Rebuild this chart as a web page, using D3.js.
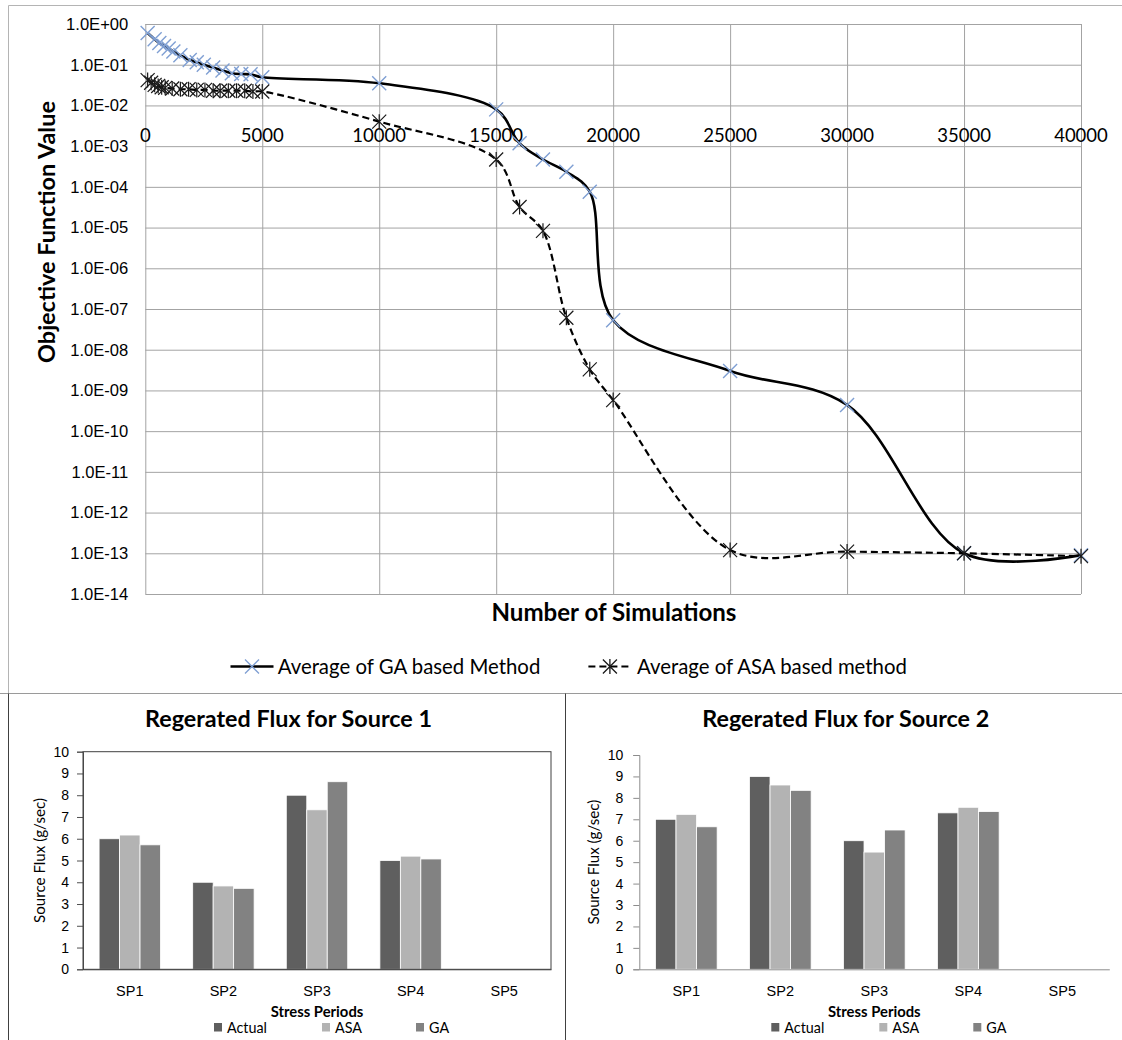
<!DOCTYPE html>
<html>
<head>
<meta charset="utf-8">
<script src="https://cdn.jsdelivr.net/npm/d3@7"></script>
<style>
  body { margin: 0; background: #fff; }
  svg { display: block; font-family: Lato, "Open Sans", sans-serif; }
</style>
</head>
<body>
<svg id="chart" width="1122" height="1040"></svg>
<script>
// ---- data ----
const gaX = [100, 400, 600, 800, 1000, 1200, 1500, 1900, 2200, 2500, 2900, 3300, 3700, 4100, 4500, 5000,
  10000, 15000, 16000, 17000, 18000, 19000, 20000, 25000, 30000, 35000, 40000];
const gaY = [0.6, 0.42, 0.34, 0.29, 0.25, 0.21, 0.17, 0.13, 0.115, 0.1, 0.085, 0.072, 0.062, 0.059, 0.058, 0.049,
  0.035, 8e-3, 1.17e-3, 4.7e-4, 2.35e-4, 7.6e-5, 5.3e-8, 3.0e-9, 4.4e-10, 1.0e-13, 9e-14];

const asaX = [100, 250, 400, 550, 700, 850, 1150, 1500, 1850, 2200, 2550, 2900, 3200, 3550, 3900, 4250, 4600, 5000,
  10000, 15000, 16000, 17000, 18000, 19000, 20000, 25000, 30000, 35000, 40000];
const asaY = [0.042, 0.036, 0.032, 0.03, 0.028, 0.027, 0.026, 0.025, 0.025, 0.024, 0.024, 0.023, 0.023, 0.023, 0.023, 0.023, 0.022, 0.022,
  4.0e-3, 4.7e-4, 3.2e-5, 8.3e-6, 6.1e-8, 3.3e-9, 5.8e-10, 1.2e-13, 1.1e-13, 1.0e-13, 8.5e-14];

const yExponents = [0, -1, -2, -3, -4, -5, -6, -7, -8, -9, -10, -11, -12, -13, -14];
const yTickLabels = ["1.0E+00", "1.0E-01", "1.0E-02", "1.0E-03", "1.0E-04", "1.0E-05", "1.0E-06", "1.0E-07",
  "1.0E-08", "1.0E-09", "1.0E-10", "1.0E-11", "1.0E-12", "1.0E-13", "1.0E-14"];
const xTicks = [0, 5000, 10000, 15000, 20000, 25000, 30000, 35000, 40000];
const seriesNames = ["Average of GA based Method", "Average of ASA based method"];

const periods = ["SP1", "SP2", "SP3", "SP4", "SP5"];
const methods = ["Actual", "ASA", "GA"];
const src1Actual = [6.0, 4.0, 8.0, 5.0, 0];
const src1ASA = [6.17, 3.83, 7.33, 5.2, 0];
const src1GA = [5.72, 3.72, 8.62, 5.07, 0];
const src2Actual = [7.0, 9.0, 6.0, 7.3, 0];
const src2ASA = [7.23, 8.6, 5.47, 7.56, 0];
const src2GA = [6.65, 8.35, 6.5, 7.36, 0];
const barTicks = [0, 1, 2, 3, 4, 5, 6, 7, 8, 9, 10];

const barColor = d3.scaleOrdinal().domain(methods).range(["#5f5f5f", "#b3b3b3", "#828282"]);
const GA_BLUE = "#7f9fd3";

const svg = d3.select("#chart");

// font size that makes a string a given width
function sizeFor(str, w, weight) {
  const t = svg.append("text").attr("font-size", 20).attr("font-weight", weight || "normal").text(str);
  const len = t.node().getComputedTextLength();
  t.remove();
  return 20 * w / len;
}

/* =====================
   Frames
===================== */
svg.append("path").attr("d", "M8.5,693V5.5H1122").attr("fill", "none").attr("stroke", "#b4b4b4");
svg.append("line").attr("x1", 0).attr("x2", 1122).attr("y1", 693.5).attr("y2", 693.5).attr("stroke", "#9a9a9a");
svg.append("line").attr("x1", 8.5).attr("x2", 8.5).attr("y1", 693.5).attr("y2", 1040).attr("stroke", "#404040");
svg.append("line").attr("x1", 565.5).attr("x2", 565.5).attr("y1", 693.5).attr("y2", 1040).attr("stroke", "#404040");

/* =====================
   Main chart
===================== */
const x = d3.scaleLinear().domain([0, 40000]).range([145.3, 1081]);
const y = d3.scaleLog().domain([1, 1e-14]).range([24, 594]);
const yTicks = yExponents.map(e => Math.pow(10, e));

const main = svg.append("g");

const yFont = sizeFor("1.0E+00", 61.6);
const gy = main.append("g")
  .attr("transform", `translate(${x(0)},0)`)
  .call(d3.axisLeft(y).tickValues(yTicks).tickSize(-(x(40000) - x(0)))
    .tickFormat((d, i) => yTickLabels[i]).tickPadding(17));
gy.select(".domain").remove();
gy.selectAll("line").attr("stroke", "#a3a3a3");
gy.selectAll("text").attr("font-size", yFont).attr("fill", "#000").attr("font-family", null);

const gx = main.append("g")
  .attr("transform", `translate(0,${y(1)})`)
  .call(d3.axisTop(x).tickValues(xTicks).tickSize(-(y(1e-14) - y(1))).tickFormat(""));
gx.select(".domain").remove();
gx.selectAll("line").attr("stroke", "#a3a3a3");

const xFont = sizeFor("5000", 43);
main.append("g").selectAll("text")
  .data(xTicks)
  .join("text")
  .attr("x", d => x(d))
  .attr("y", 135)
  .attr("dy", "0.36em")
  .attr("text-anchor", "middle")
  .attr("font-size", xFont)
  .text(d => d);

const line = d3.line()
  .x(d => x(d[0]))
  .y(d => y(d[1]))
  .curve(d3.curveCatmullRom.alpha(0.5));

const gaPts = gaX.map((v, i) => [v, gaY[i]]);
const asaPts = asaX.map((v, i) => [v, asaY[i]]);

const crossPath = "M-7,-7L7,7M-7,7L7,-7";
const starPath = "M-7,-7L7,7M-7,7L7,-7M0,-7.5L0,7.5";

main.append("path").datum(gaPts)
  .attr("d", line).attr("fill", "none").attr("stroke", "#000").attr("stroke-width", 2.6);
main.append("g").selectAll("path").data(gaPts).join("path")
  .attr("transform", d => `translate(${x(d[0])},${y(d[1])})`)
  .attr("d", crossPath).attr("stroke", GA_BLUE).attr("stroke-width", 1.4).attr("fill", "none");

main.append("path").datum(asaPts)
  .attr("d", line).attr("fill", "none").attr("stroke", "#000").attr("stroke-width", 2.2)
  .attr("stroke-dasharray", "7,4");
main.append("g").selectAll("path").data(asaPts).join("path")
  .attr("transform", d => `translate(${x(d[0])},${y(d[1])})`)
  .attr("d", starPath).attr("stroke", "#1a1a1a").attr("stroke-width", 1.2).attr("fill", "none");

// axis titles
main.append("text")
  .attr("transform", "translate(47,232) rotate(-90)")
  .attr("text-anchor", "middle").attr("dy", "0.35em")
  .attr("font-weight", "bold")
  .attr("font-size", sizeFor("Objective Function Value", 262, "bold"))
  .text("Objective Function Value");

main.append("text")
  .attr("x", 614).attr("y", 613).attr("dy", "0.35em")
  .attr("text-anchor", "middle").attr("font-weight", "bold")
  .attr("font-size", sizeFor("Number of Simulations", 245, "bold"))
  .text("Number of Simulations");

// legend
const legFont = sizeFor(seriesNames[0], 262.7);
const legItems = [
  { name: seriesNames[0], x0: 230.5, tx: 277.7, dash: null, mark: crossPath, col: GA_BLUE, w: 2.6 },
  { name: seriesNames[1], x0: 588.4, tx: 637, dash: "7,4", mark: starPath, col: "#1a1a1a", w: 2.2 }
];
const leg = main.append("g").selectAll("g").data(legItems).join("g")
  .attr("transform", "translate(0,666.5)");
leg.append("line")
  .attr("x1", d => d.x0).attr("x2", d => d.x0 + 43)
  .attr("stroke", "#000").attr("stroke-width", d => d.w)
  .attr("stroke-dasharray", d => d.dash);
leg.append("path")
  .attr("transform", d => `translate(${d.x0 + 21.5},0)`)
  .attr("d", d => d.mark).attr("stroke", d => d.col)
  .attr("stroke-width", 1.3).attr("fill", "none");
leg.append("text")
  .attr("x", d => d.tx).attr("dy", "0.35em")
  .attr("font-size", legFont)
  .text(d => d.name);

/* =====================
   Bar charts
===================== */
const titleFont = sizeFor("Regerated Flux for Source 1", 287, "bold");
const catFont = sizeFor("SP4", 25);
const tickFont = sizeFor("10", 16.3);
const yLabFont = sizeFor("Source Flux (g/sec)", 125);
const xLabFont = sizeFor("Stress Periods", 92.7, "bold");
const keyFont = sizeFor("Actual", 40);

function drawBars(cfg) {
  const g = svg.append("g");
  const xb = d3.scaleBand().domain(periods).range([cfg.left, cfg.right]);
  const xs = d3.scaleBand().domain(methods).range([0, xb.bandwidth()]).paddingOuter(0.786);
  const yb = d3.scaleLinear().domain([0, 10]).range([cfg.bottom, cfg.top]);

  const rows = periods.map((p, i) => ({ p, vals: methods.map((m, j) => ({ m, v: cfg.values[j][i] })) }));

  g.append("g").selectAll("g").data(rows).join("g")
    .attr("transform", d => `translate(${xb(d.p)},0)`)
    .selectAll("rect").data(d => d.vals.filter(v => v.v > 0)).join("rect")
    .attr("x", d => xs(d.m))
    .attr("width", xs.bandwidth())
    .attr("y", d => yb(d.v))
    .attr("height", d => yb(0) - yb(d.v))
    .attr("fill", d => barColor(d.m))
    .attr("stroke", "#fff").attr("stroke-width", 0.8);

  const ay = g.append("g")
    .attr("transform", `translate(${cfg.left},0)`)
    .call(d3.axisLeft(yb).tickValues(barTicks).tickSize(6).tickPadding(cfg.pad));
  ay.selectAll("line,path").attr("stroke", cfg.axisCol);
  ay.selectAll("text").attr("font-size", tickFont).attr("fill", "#000").attr("font-family", null);

  const ax = g.append("g")
    .attr("transform", `translate(0,${cfg.bottom})`)
    .call(d3.axisBottom(xb).tickSize(0).tickSizeOuter(0));
  ax.select(".domain").attr("stroke", cfg.axisCol);
  ax.selectAll("text").attr("y", 21.7).attr("dy", "0.35em")
    .attr("font-size", catFont).attr("fill", "#000").attr("font-family", null);

  if (cfg.box) {
    g.append("rect")
      .attr("x", cfg.left).attr("y", cfg.top)
      .attr("width", cfg.right - cfg.left).attr("height", cfg.bottom - cfg.top)
      .attr("fill", "none").attr("stroke", "#404040");
  }

  const mid = (cfg.left + cfg.right) / 2;
  g.append("text")
    .attr("x", mid - 28.5).attr("y", 719).attr("dy", "0.35em")
    .attr("text-anchor", "middle").attr("font-weight", "bold")
    .attr("font-size", titleFont)
    .text(cfg.title);

  g.append("text")
    .attr("transform", `translate(${cfg.yLabX},${(cfg.top + cfg.bottom) / 2}) rotate(-90)`)
    .attr("text-anchor", "middle").attr("dy", "0.35em")
    .attr("font-size", yLabFont)
    .text("Source Flux (g/sec)");

  g.append("text")
    .attr("x", mid).attr("y", 1012).attr("dy", "0.35em")
    .attr("text-anchor", "middle").attr("font-weight", "bold")
    .attr("font-size", xLabFont)
    .text("Stress Periods");

  const key = g.append("g").selectAll("g").data(methods).join("g")
    .attr("transform", (d, i) => `translate(${mid + [-90, 18, 112][i]},1027.5)`);
  key.append("rect")
    .attr("x", -13).attr("y", -4.5).attr("width", 8).attr("height", 8.5)
    .attr("fill", d => barColor(d));
  key.append("text")
    .attr("dy", "0.35em").attr("font-size", keyFont)
    .text(d => d);
}

drawBars({
  title: "Regerated Flux for Source 1",
  left: 83, right: 551, top: 751.7, bottom: 969.3,
  values: [src1Actual, src1ASA, src1GA],
  box: true, axisCol: "#505050", pad: 8, yLabX: 40
});

drawBars({
  title: "Regerated Flux for Source 2",
  left: 639.3, right: 1109.3, top: 755, bottom: 969.3,
  values: [src2Actual, src2ASA, src2GA],
  box: false, axisCol: "#8c8c8c", pad: 10, yLabX: 594
});
</script>
</body>
</html>
